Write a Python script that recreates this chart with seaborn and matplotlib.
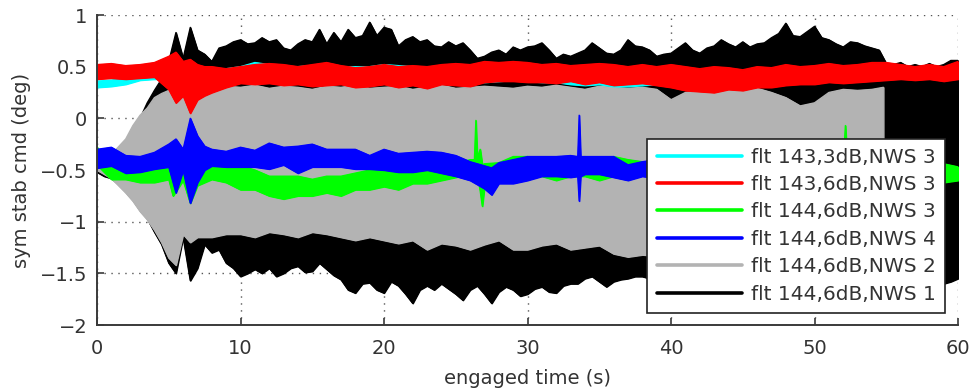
import numpy as np
import pandas as pd
import matplotlib
matplotlib.use("Agg")
import matplotlib.pyplot as plt
from matplotlib.lines import Line2D
import seaborn as sns

# ---------------- data (envelopes) ----------------
t_black = np.arange(0, 60.5, 0.5)
black_hi = [
    -0.45, -0.42, -0.40, -0.38, -0.30, -0.15, 0.00, 0.15, 0.27, 0.38,
    0.55, 0.83, 0.58, 0.88, 0.66, 0.62, 0.55, 0.68, 0.70, 0.74,
    0.76, 0.72, 0.73, 0.78, 0.74, 0.76, 0.68, 0.66, 0.72, 0.76,
    0.74, 0.86, 0.72, 0.83, 0.74, 0.86, 0.78, 0.80, 0.93, 0.80,
    0.88, 0.86, 0.70, 0.76, 0.79, 0.74, 0.76, 0.70, 0.69, 0.74,
    0.70, 0.73, 0.66, 0.58, 0.60, 0.64, 0.66, 0.62, 0.69, 0.66,
    0.69, 0.70, 0.73, 0.66, 0.58, 0.62, 0.60, 0.63, 0.66, 0.73,
    0.68, 0.63, 0.62, 0.66, 0.76, 0.70, 0.69, 0.66, 0.60, 0.62,
    0.63, 0.68, 0.73, 0.66, 0.63, 0.68, 0.70, 0.76, 0.72, 0.69,
    0.74, 0.69, 0.72, 0.73, 0.78, 0.82, 0.92, 0.80, 0.79, 0.84,
    0.89, 0.78, 0.76, 0.72, 0.69, 0.74, 0.73, 0.70, 0.68, 0.66,
    0.53, 0.52, 0.54, 0.50, 0.52, 0.50, 0.53, 0.50, 0.52, 0.56,
    0.56]
black_lo = [
    -0.52, -0.56, -0.58, -0.64, -0.71, -0.79, -0.89, -0.97, -1.10, -1.22,
    -1.40, -1.50, -1.15, -1.57, -1.45, -1.22, -1.30, -1.27, -1.40, -1.45,
    -1.53, -1.50, -1.46, -1.50, -1.45, -1.53, -1.50, -1.45, -1.43, -1.49,
    -1.48, -1.40, -1.46, -1.52, -1.56, -1.66, -1.69, -1.60, -1.59, -1.66,
    -1.69, -1.58, -1.62, -1.70, -1.79, -1.66, -1.62, -1.66, -1.60, -1.65,
    -1.70, -1.76, -1.66, -1.62, -1.70, -1.79, -1.68, -1.63, -1.66, -1.72,
    -1.70, -1.65, -1.63, -1.68, -1.69, -1.62, -1.60, -1.60, -1.55, -1.53,
    -1.58, -1.63, -1.58, -1.56, -1.55, -1.53, -1.53, -1.55, -1.57, -1.55,
    -1.56, -1.55, -1.58, -1.55, -1.57, -1.56, -1.55, -1.58, -1.56, -1.55,
    -1.57, -1.55, -1.56, -1.58, -1.55, -1.57, -1.56, -1.55, -1.58, -1.56,
    -1.55, -1.57, -1.56, -1.55, -1.58, -1.56, -1.55, -1.57, -1.56, -1.58,
    -1.58, -1.55, -1.56, -1.55, -1.57, -1.58, -1.55, -1.57, -1.60, -1.58,
    -1.55]

t_gray = [0, 1, 2, 2.5, 3, 3.5, 4, 4.5, 5, 5.5, 6, 6.5] + list(range(7, 55)) + [54.8]
gray_hi = ([-0.45, -0.35, -0.20, -0.07, 0.03, 0.10, 0.20, 0.24, 0.27, 0.29, 0.28, 0.30]
           + [0.30, 0.28, 0.31, 0.30, 0.32, 0.29, 0.31, 0.30,
              0.28, 0.31, 0.30, 0.32, 0.29, 0.30, 0.31, 0.28,
              0.30, 0.32, 0.29, 0.30, 0.31, 0.30, 0.29, 0.31,
              0.30, 0.32, 0.30, 0.28, 0.31, 0.30, 0.29, 0.30,
              0.28, 0.18, 0.25, 0.27, 0.29, 0.28, 0.30, 0.29,
              0.25, 0.20, 0.12, 0.15, 0.25, 0.28, 0.27, 0.28]
           + [0.30])
gray_lo = ([-0.50, -0.58, -0.72, -0.80, -0.90, -0.98, -1.08, -1.20, -1.35, -1.42, -1.12, -1.20]
           + [-1.15, -1.15, -1.12, -1.12, -1.15, -1.10, -1.12, -1.15,
              -1.10, -1.12, -1.15, -1.18, -1.15, -1.18, -1.21, -1.18,
              -1.27, -1.21, -1.23, -1.27, -1.22, -1.18, -1.27, -1.27,
              -1.23, -1.21, -1.27, -1.25, -1.23, -1.31, -1.34, -1.32,
              -1.33, -1.35, -1.35, -1.35, -1.35, -1.35, -1.35, -1.35,
              -1.35, -1.35, -1.35, -1.35, -1.35, -1.35, -1.35, -1.35]
           + [-1.35])

t_cyan = list(range(0, 46))
cyan_hi = [0.36, 0.37, 0.40, 0.44, 0.46, 0.46, 0.47, 0.47, 0.46, 0.48,
           0.50, 0.54, 0.52, 0.50, 0.50, 0.51, 0.50, 0.50, 0.50, 0.50,
           0.52, 0.51, 0.50, 0.50, 0.50, 0.50, 0.49, 0.48, 0.49, 0.50,
           0.49, 0.48, 0.48, 0.47, 0.46, 0.46, 0.45, 0.45, 0.45, 0.44,
           0.44, 0.43, 0.42, 0.42, 0.42, 0.40]
cyan_lo = [0.30, 0.31, 0.33, 0.37, 0.38, 0.38, 0.38, 0.38, 0.37, 0.36,
           0.38, 0.42, 0.40, 0.38, 0.38, 0.39, 0.38, 0.37, 0.38, 0.37,
           0.38, 0.36, 0.37, 0.36, 0.35, 0.36, 0.36, 0.35, 0.36, 0.37,
           0.36, 0.35, 0.35, 0.33, 0.32, 0.33, 0.31, 0.31, 0.32, 0.33,
           0.32, 0.30, 0.31, 0.32, 0.33, 0.33]

t_red = [0, 1, 2, 3, 4, 5, 5.5, 6, 6.5, 7, 7.5, 8] + list(range(9, 61))
red_hi = [0.52, 0.53, 0.51, 0.52, 0.54, 0.60, 0.64, 0.55, 0.57, 0.52, 0.50, 0.50,
          0.48, 0.50, 0.52, 0.53, 0.52, 0.50, 0.52, 0.54, 0.51, 0.49,
          0.50, 0.52, 0.50, 0.51, 0.50, 0.52, 0.53, 0.52, 0.55, 0.54,
          0.55, 0.54, 0.52, 0.53, 0.51, 0.52, 0.53, 0.52, 0.50, 0.52,
          0.50, 0.52, 0.50, 0.48, 0.50, 0.49, 0.47, 0.50, 0.49, 0.52,
          0.50, 0.51, 0.53, 0.51, 0.52, 0.54, 0.54, 0.52, 0.50, 0.52,
          0.50, 0.55]
red_lo = [0.38, 0.39, 0.38, 0.39, 0.40, 0.28, 0.15, 0.22, 0.05, 0.18, 0.22, 0.25,
          0.30, 0.34, 0.33, 0.34, 0.32, 0.33, 0.31, 0.32, 0.33, 0.30,
          0.31, 0.33, 0.30, 0.32, 0.29, 0.33, 0.32, 0.31, 0.35, 0.36,
          0.36, 0.35, 0.35, 0.34, 0.36, 0.33, 0.35, 0.32, 0.33, 0.34,
          0.32, 0.30, 0.27, 0.26, 0.25, 0.28, 0.27, 0.30, 0.30, 0.32,
          0.33, 0.33, 0.35, 0.34, 0.35, 0.36, 0.37, 0.38, 0.37, 0.38,
          0.36, 0.38]

t_green = ([0, 1, 2, 3, 4, 5, 5.3, 6, 6.5, 7, 7.5] + list(range(8, 26))
           + [26, 26.3, 26.4, 26.5, 26.7, 26.85] + list(range(27, 53))
           + [52.15, 52.3] + list(range(53, 61)))
green_hi = ([-0.28, -0.43, -0.46, -0.46, -0.44, -0.44, -0.40, -0.45, -0.30, -0.40, -0.46]
            + [-0.43, -0.43, -0.46, -0.50, -0.56, -0.56, -0.56, -0.59, -0.56, -0.56,
               -0.53, -0.50, -0.50, -0.53, -0.50, -0.50, -0.47, -0.44]
            + [-0.40, -0.40, -0.02, -0.38, -0.30, -0.45]
            + [-0.44, -0.43, -0.37, -0.37, -0.40, -0.40, -0.40, -0.37, -0.40, -0.37,
               -0.40, -0.42, -0.44, -0.45, -0.44, -0.45, -0.44, -0.45, -0.44, -0.45,
               -0.44, -0.45, -0.44, -0.45, -0.45, -0.45]
            + [-0.07, -0.45]
            + [-0.44, -0.45, -0.44, -0.45, -0.44, -0.45, -0.44, -0.47])
green_lo = ([-0.45, -0.59, -0.59, -0.62, -0.62, -0.59, -0.75, -0.60, -0.82, -0.65, -0.62]
            + [-0.59, -0.62, -0.69, -0.69, -0.75, -0.78, -0.75, -0.75, -0.72, -0.75,
               -0.69, -0.69, -0.66, -0.69, -0.63, -0.63, -0.60, -0.57]
            + [-0.53, -0.55, -0.55, -0.55, -0.70, -0.85]
            + [-0.66, -0.53, -0.50, -0.53, -0.56, -0.60, -0.56, -0.56, -0.60, -0.56,
               -0.53, -0.55, -0.58, -0.60, -0.58, -0.60, -0.58, -0.60, -0.58, -0.60,
               -0.58, -0.60, -0.58, -0.60, -0.60, -0.60]
            + [-0.60, -0.60]
            + [-0.58, -0.60, -0.58, -0.60, -0.58, -0.60, -0.62, -0.60])

t_blue = ([0, 1, 2, 3, 4, 5, 5.5, 6, 6.5, 7, 7.5] + list(range(8, 27))
          + [27, 27.5, 28, 29, 30, 31, 32, 33, 33.5, 33.6, 33.7, 34, 35, 36, 37]
          + list(range(38, 59)))
blue_hi = ([-0.30, -0.28, -0.36, -0.37, -0.33, -0.25, -0.20, -0.30, 0.00, -0.17, -0.27]
           + [-0.30, -0.32, -0.28, -0.31, -0.24, -0.28, -0.27, -0.25, -0.30, -0.30,
              -0.30, -0.36, -0.30, -0.34, -0.33, -0.32, -0.33, -0.36, -0.42]
           + [-0.46, -0.48, -0.43, -0.40, -0.37, -0.37, -0.37, -0.36, -0.37, 0.03, -0.37,
              -0.37, -0.37, -0.37, -0.45]
           + [-0.42, -0.40, -0.41, -0.40, -0.41, -0.40, -0.41, -0.40, -0.41, -0.40,
              -0.41, -0.40, -0.41, -0.40, -0.41, -0.40, -0.41, -0.40, -0.41, -0.40,
              -0.41])
blue_lo = ([-0.48, -0.46, -0.53, -0.52, -0.49, -0.47, -0.72, -0.50, -0.82, -0.62, -0.50]
           + [-0.46, -0.47, -0.47, -0.47, -0.49, -0.45, -0.53, -0.47, -0.47, -0.47,
              -0.49, -0.49, -0.50, -0.52, -0.52, -0.50, -0.53, -0.56, -0.60]
           + [-0.68, -0.74, -0.63, -0.63, -0.60, -0.56, -0.56, -0.57, -0.56, -0.80, -0.56,
              -0.54, -0.54, -0.57, -0.60]
           + [-0.56, -0.58, -0.57, -0.58, -0.57, -0.58, -0.57, -0.58, -0.57, -0.58,
              -0.57, -0.58, -0.57, -0.58, -0.57, -0.58, -0.57, -0.58, -0.57, -0.58,
              -0.57])

labels = ["flt 143,3dB,NWS 3", "flt 143,6dB,NWS 3", "flt 144,6dB,NWS 3",
          "flt 144,6dB,NWS 4", "flt 144,6dB,NWS 2", "flt 144,6dB,NWS 1"]
colors = ["#00FFFF", "#FF0000", "#00FF00", "#0000FF", "#B3B3B3", "#000000"]

x_ticks = [0, 10, 20, 30, 40, 50, 60]
y_ticks = [-2, -1.5, -1, -0.5, 0, 0.5, 1]
y_ticklabels = ["\u22122", "\u22121.5", "\u22121", "\u22120.5", "0", "0.5", "1"]

# ---------------- plotting ----------------
sns.set_theme(style="white")
plt.rcParams["font.family"] = ["DejaVu Sans"]

fig = plt.figure(figsize=(9.76, 3.92), dpi=100)
ax = fig.add_axes([0.0994, 0.1709, 0.8822, 0.7908])

# draw order: black, gray, cyan, red, green, blue
draw = [
    (t_black, black_lo, black_hi, colors[5], 2),
    (t_gray, gray_lo, gray_hi, colors[4], 3),
    (t_cyan, cyan_lo, cyan_hi, colors[0], 4),
    (t_red, red_lo, red_hi, colors[1], 5),
    (t_green, green_lo, green_hi, colors[2], 6),
    (t_blue, blue_lo, blue_hi, colors[3], 7),
]
for t, lo, hi, c, z in draw:
    assert len(t) == len(lo) == len(hi), (c, len(t), len(lo), len(hi))
    df = pd.DataFrame({"t": t, "lo": lo, "hi": hi})
    ax.fill_between(df["t"], df["lo"], df["hi"], color=c, lw=1.0, edgecolor=c, zorder=z)
    sns.lineplot(data=df, x="t", y="hi", color=c, lw=1.0, ax=ax, zorder=z, legend=False)
    sns.lineplot(data=df, x="t", y="lo", color=c, lw=1.0, ax=ax, zorder=z, legend=False)

ax.set_xlim(0, 60)
ax.set_ylim(-2, 1)
ax.set_xticks(x_ticks)
ax.set_xticklabels([str(v) for v in x_ticks])
ax.set_yticks(y_ticks)
ax.set_yticklabels(y_ticklabels)

ax.grid(True, linestyle=(0, (1, 4)), color="#555555", lw=1.0, zorder=0.5)
ax.set_axisbelow(True)
for s in ["top", "right"]:
    ax.spines[s].set_visible(False)
for s in ["left", "bottom"]:
    ax.spines[s].set_color("#3a3a3a")
    ax.spines[s].set_linewidth(1.4)
    ax.spines[s].set_zorder(10)

ax.tick_params(axis="both", which="both", direction="in", length=5, width=1.2,
               color="#3a3a3a", labelsize=14, labelcolor="#333333",
               bottom=True, left=True)
ax.tick_params(axis="x", pad=10)
ax.tick_params(axis="y", pad=7)
ax.set_xlabel("engaged time (s)", fontsize=14, color="#333333", labelpad=8)
ax.set_ylabel("sym stab cmd (deg)", fontsize=14, color="#333333", labelpad=6)

handles = [Line2D([0], [0], color=c, lw=2.6) for c in colors]
leg = ax.legend(handles, labels, loc="lower right", bbox_to_anchor=(0.985, 0.039),
                frameon=True, fancybox=False, framealpha=1, edgecolor="#222222",
                fontsize=14.5, handlelength=4.25, handletextpad=0.45,
                labelspacing=0.42, borderpad=0.45, borderaxespad=0.0)
leg.get_frame().set_linewidth(1.2)
leg.set_zorder(20)
for txt in leg.get_texts():
    txt.set_color("#333333")

fig.savefig("out.png", dpi=100)
